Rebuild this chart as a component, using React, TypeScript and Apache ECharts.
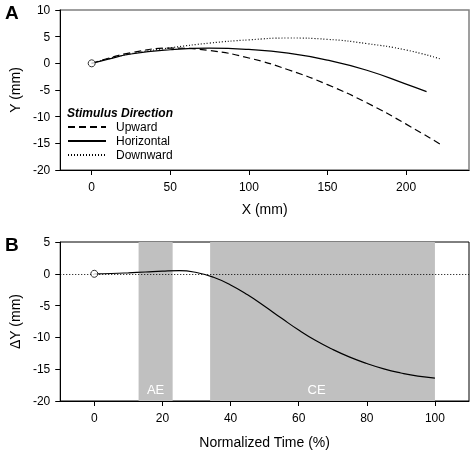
import React, { useEffect, useRef } from "react";
import * as echarts from "echarts";

// Panel A: trajectories (X mm, Y mm)
const upwardX = [0, 10, 25, 50, 75, 100, 125, 150, 175, 200, 223];
const upwardY = [0, 0.9, 2.0, 2.85, 2.4, 1.0, -1.2, -4.0, -7.4, -11.4, -15.4];
const horizontalX = [0, 10, 25, 50, 75, 100, 125, 150, 175, 200, 213];
const horizontalY = [0, 0.75, 1.75, 2.55, 2.85, 2.6, 1.9, 0.6, -1.3, -3.9, -5.3];
const downwardX = [0, 10, 25, 50, 75, 100, 125, 150, 175, 200, 222];
const downwardY = [0, 0.8, 1.8, 2.9, 3.8, 4.4, 4.75, 4.5, 3.7, 2.5, 0.8];

// Panel B: deviation over normalized time
const timePct = [0, 5, 10, 15, 20, 25, 30, 35, 40, 45, 50, 55, 60, 65, 70, 75, 80, 85, 90, 95, 100];
const deltaY = [0, 0.05, 0.15, 0.28, 0.42, 0.5, 0.2, -0.55, -1.75, -3.3, -5.1, -7.0, -8.85, -10.5, -11.9, -13.1, -14.1, -14.95, -15.6, -16.1, -16.4];

const aeRange = [13, 23];
const ceRange = [34, 100];

const xTicksA = [0, 50, 100, 150, 200];
const xTicksB = [0, 20, 40, 60, 80, 100];

const FONT = "Liberation Sans, Arial, sans-serif";

const zip = (xs: number[], ys: number[]) => xs.map((x, i) => [x, ys[i]]);

export default function App() {
  const ref = useRef<HTMLDivElement>(null);
  useEffect(() => {
    if (!ref.current) return;
    const chart = echarts.init(ref.current, null, { renderer: "svg" });
    const axisLine = { show: true, onZero: false, lineStyle: { color: "#000", width: 1 } };
    const axisTick = { show: true, inside: false, length: 5, lineStyle: { color: "#000" } };
    const axisLabel = { color: "#000", fontSize: 12, fontFamily: FONT };
    const nameStyle = { color: "#000", fontSize: 14, fontFamily: FONT };
    const lineBase = {
      type: "line" as const,
      showSymbol: false,
      symbol: "none",
      smooth: 0.5,
      silent: true,
    };
    chart.setOption({
      animation: false,
      textStyle: { fontFamily: FONT },
      grid: [
        { left: 52, top: 10, width: 417, height: 160, show: true, borderColor: "#808080", borderWidth: 1.5, backgroundColor: "transparent" },
        { left: 52, top: 242, width: 417, height: 160, show: true, borderColor: "#000", borderWidth: 1, backgroundColor: "transparent" },
      ],
      xAxis: [
        {
          gridIndex: 0, type: "value", min: -20, max: 240,
          axisLine, axisTick: { ...axisTick, customValues: xTicksA },
          axisLabel: { ...axisLabel, margin: 11, customValues: xTicksA },
          splitLine: { show: false },
          name: "X (mm)", nameLocation: "middle", nameGap: 32, nameTextStyle: nameStyle,
        },
        {
          gridIndex: 1, type: "value", min: -10, max: 110,
          axisLine, axisTick: { ...axisTick, customValues: xTicksB },
          axisLabel: { ...axisLabel, margin: 11, customValues: xTicksB },
          splitLine: { show: false },
          name: "Normalized Time (%)", nameLocation: "middle", nameGap: 34, nameTextStyle: nameStyle,
        },
      ],
      yAxis: [
        {
          gridIndex: 0, type: "value", min: -20, max: 10, interval: 5,
          axisLine, axisTick, axisLabel: { ...axisLabel, margin: 10 },
          splitLine: { show: false },
          name: "Y (mm)", nameLocation: "middle", nameGap: 37, nameRotate: 90, nameTextStyle: nameStyle,
        },
        {
          gridIndex: 1, type: "value", min: -20, max: 5, interval: 5,
          axisLine, axisTick, axisLabel: { ...axisLabel, margin: 10 },
          splitLine: { show: false },
          name: "\u0394Y (mm)", nameLocation: "middle", nameGap: 37, nameRotate: 90, nameTextStyle: nameStyle,
        },
      ],
      legend: {
        left: 67, top: 120, orient: "vertical", padding: 0,
        itemWidth: 38, itemHeight: 14, itemGap: 0,
        data: ["Upward", "Horizontal", "Downward"],
        itemStyle: { opacity: 0, borderWidth: 0 },
        textStyle: { color: "#000", fontSize: 12, lineHeight: 14, fontFamily: FONT, padding: [0, 0, 0, 5] },
        selectedMode: false,
      },
      graphic: [
        { type: "text", left: 5, top: 3, style: { text: "A", fontSize: 19, fontWeight: "bold", fontFamily: FONT, fill: "#000" } },
        { type: "text", left: 5, top: 235, style: { text: "B", fontSize: 19, fontWeight: "bold", fontFamily: FONT, fill: "#000" } },
        { type: "text", left: 67, top: 107, style: { text: "Stimulus Direction", fontSize: 12, fontWeight: "bold", fontStyle: "italic", fontFamily: FONT, fill: "#000" } },
      ],
      series: [
        {
          ...lineBase, name: "Upward", xAxisIndex: 0, yAxisIndex: 0,
          data: zip(upwardX, upwardY),
          lineStyle: { color: "#000", width: 1.2, type: [7, 4] },
          itemStyle: { color: "#000" },
        },
        {
          ...lineBase, name: "Horizontal", xAxisIndex: 0, yAxisIndex: 0,
          data: zip(horizontalX, horizontalY),
          lineStyle: { color: "#000", width: 1.2, type: "solid" },
          itemStyle: { color: "#000" },
        },
        {
          ...lineBase, name: "Downward", xAxisIndex: 0, yAxisIndex: 0,
          data: zip(downwardX, downwardY),
          lineStyle: { color: "#000", width: 1.2, type: [1, 2] },
          itemStyle: { color: "#000" },
        },
        {
          type: "scatter", xAxisIndex: 0, yAxisIndex: 0, data: [[0, 0]],
          symbol: "circle", symbolSize: 7, silent: true, z: 5,
          itemStyle: { color: "#fff", borderColor: "#000", borderWidth: 1 },
        },
        {
          ...lineBase, name: "dY", xAxisIndex: 1, yAxisIndex: 1,
          data: zip(timePct, deltaY),
          lineStyle: { color: "#000", width: 1.2 },
          z: 4,
          markArea: {
            silent: true,
            itemStyle: { color: "#c0c0c0" },
            label: { show: true, position: "insideBottom", color: "#fff", fontSize: 13, fontFamily: FONT, distance: 5 },
            data: [
              [{ name: "AE", xAxis: aeRange[0] }, { xAxis: aeRange[1] }],
              [{ name: "CE", xAxis: ceRange[0], label: { offset: [-6, 0] } }, { xAxis: ceRange[1] }],
            ],
          },
          markLine: {
            silent: true, symbol: "none",
            label: { show: false },
            lineStyle: { color: "#000", type: [1, 2], width: 1 },
            data: [{ yAxis: 0 }],
          },
        },
        {
          type: "scatter", xAxisIndex: 1, yAxisIndex: 1, data: [[0, 0]],
          symbol: "circle", symbolSize: 7, silent: true, z: 5,
          itemStyle: { color: "#fff", borderColor: "#000", borderWidth: 1 },
        },
      ],
    });
    return () => chart.dispose();
  }, []);
  return <div ref={ref} style={{ position: "fixed", left: 0, top: 0, width: 470, height: 450 }} />;
}
